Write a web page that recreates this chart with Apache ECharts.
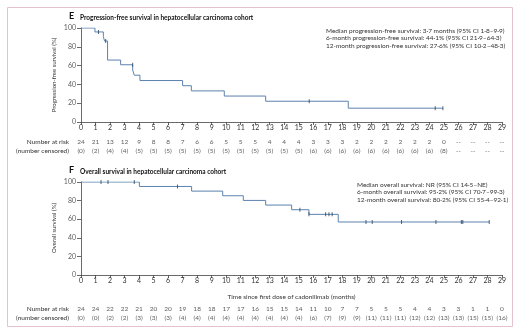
<!DOCTYPE html>
<html><head><meta charset="utf-8">
<script src="https://cdn.jsdelivr.net/npm/echarts@6/dist/echarts.min.js"></script>
<style>html,body{margin:0;padding:0;background:#fff}#c{width:521px;height:332px}</style>
</head><body><div id="c"></div>
<script>
// ---- data ----
const months = Array.from({length: 30}, (_, i) => i);
const yTicks = [0, 20, 40, 60, 80, 100];
const pfsTime = [0, 0.96, 1.54, 1.62, 1.83, 2.73, 3.56, 3.67, 4.06, 7.0, 7.6, 9.87, 12.72, 18.41, 24.93];
const pfsSurv = [100, 95.8, 91.0, 86.2, 65.9, 60.9, 55.4, 49.8, 44.1, 38.6, 33.1, 27.6, 22.1, 14.7, 14.7];
const pfsCensTime = [1.2, 1.7, 3.56, 15.72, 24.4, 24.93];
const pfsCensSurv = [95.8, 86.2, 60.9, 22.1, 14.7, 14.7];
const osTime = [0, 4.02, 7.62, 9.76, 11.18, 12.72, 14.51, 15.7, 17.72, 28.12];
const osSurv = [100, 95.2, 90.2, 85.2, 80.2, 75.2, 70.2, 65.2, 57.0, 57.0];
const osCensTime = [1.38, 1.86, 3.67, 6.65, 15.08, 15.7, 16.85, 17.08, 17.3, 19.63, 20.06, 22.08, 24.45, 26.2, 26.3, 28.12];
const osCensSurv = [100, 100, 100, 95.2, 70.2, 65.2, 65.2, 65.2, 65.2, 57, 57, 57, 57, 57, 57, 57];
const pfsRisk = [24,21,13,12,9,8,8,7,6,6,5,5,5,4,4,4,3,3,3,2,2,2,2,2,2,0,'--','--','--','--'];
const pfsCens = [0,2,4,4,5,5,5,5,5,5,5,5,5,5,5,5,6,6,6,6,6,6,6,6,6,8,'--','--','--','--'];
const osRisk = [24,24,22,22,21,20,20,19,18,18,17,17,16,15,15,14,11,10,7,7,5,5,5,4,4,3,3,1,1,0];
const osCens = [0,0,2,2,3,3,3,4,4,4,4,4,4,4,4,4,6,7,9,9,11,11,11,12,12,13,13,15,15,16];
const riskRows = ['Number at risk', '(number censored)'];
const pfsNotes = ['Median progression-free survival: 3·7 months (95% CI 1·8–9·9)',
  '6-month progression-free survival: 44·1% (95% CI 21·9–64·3)',
  '12-month progression-free survival: 27·6% (95% CI 10·2–48·3)'];
const osNotes = ['Median overall survival: NR (95% CI 14·5–NE)',
  '6-month overall survival: 95·2% (95% CI 70·7–99·3)',
  '12-month overall survival: 80·2% (95% CI 55·4–92·1)'];

// ---- chart ----
const FONT = 'Lato, "Open Sans", sans-serif';
const LINE = '#5b82ad', MARK = '#22405f', TXT = '#333';
const zip = (a, b) => a.map((v, i) => [v, b[i]]);
const riskData = (r, c) => months.flatMap(m => [[m, 0, r[m]], [m, 1, c[m] === '--' ? '--' : '(' + c[m] + ')']]);

function xAx(gi, show, name) {
  return {
    gridIndex: gi, type: 'value', min: 0, max: 29, interval: 1, show: show,
    name: name || '', nameLocation: 'middle', nameGap: 18,
    nameTextStyle: {fontFamily: FONT, fontSize: 6.5, color: TXT},
    axisLine: {lineStyle: {color: '#444', width: 0.8}},
    axisTick: {length: 3, lineStyle: {color: '#444', width: 0.8}},
    axisLabel: {fontFamily: FONT, fontSize: 7, color: TXT, margin: 2},
    splitLine: {show: false}
  };
}
function yAx(gi) {
  return {
    gridIndex: gi, type: 'value', min: 0, max: 100, interval: 20,
    axisLine: {show: true, lineStyle: {color: '#444', width: 0.8}},
    axisTick: {show: true, length: 4, lineStyle: {color: '#444', width: 0.8}},
    axisLabel: {show: false},
    splitLine: {show: false}
  };
}
function riskY(gi) {
  return {
    gridIndex: gi, type: 'category', data: riskRows, inverse: true,
    axisLine: {show: false}, axisTick: {show: false},
    axisLabel: {fontFamily: FONT, fontSize: 6.5, color: TXT, margin: 12, interval: 0}
  };
}
function curve(xi, t, s) {
  return {type: 'line', xAxisIndex: xi, yAxisIndex: xi, data: zip(t, s), step: 'end',
    symbol: 'none', lineStyle: {color: LINE, width: 1}, silent: true};
}
function cens(xi, t, s) {
  return {type: 'scatter', xAxisIndex: xi, yAxisIndex: xi, data: zip(t, s),
    symbol: 'rect', symbolSize: [1, 4], itemStyle: {color: MARK}, silent: true, z: 5};
}
function yTickLabels(xi) {
  return {type: 'scatter', xAxisIndex: xi, yAxisIndex: xi, data: yTicks.map(v => [0, v]),
    symbolSize: 0, silent: true, clip: false,
    label: {show: true, position: 'left', distance: 5, formatter: p => String(p.value[1]),
      fontFamily: FONT, fontSize: 7, color: TXT}};
}
function riskSeries(xi, r, c) {
  return {type: 'scatter', xAxisIndex: xi, yAxisIndex: xi, data: riskData(r, c),
    symbolSize: 0, silent: true,
    label: {show: true, position: 'inside', formatter: p => String(p.value[2]),
      fontFamily: FONT, fontSize: 6.5, color: TXT}};
}
function notes(lines, x, y0) {
  return lines.map((t, i) => ({type: 'text', left: x, top: y0 + i * 7.7,
    style: {text: t, fontFamily: FONT, fontSize: 6.5, fill: TXT}}));
}
function yName(text, cy) {
  return {type: 'text', x: 54, y: cy, rotation: Math.PI / 2,
    style: {text: text, fontFamily: FONT, fontSize: 6, fill: TXT, align: 'center', verticalAlign: 'middle'}};
}

const chart = echarts.init(document.getElementById('c'), null, {renderer: 'canvas'});
chart.setOption({
  animation: false,
  grid: [
    {left: 81, top: 28, width: 421, height: 94},
    {left: 81, top: 182, width: 421, height: 93},
    {left: 81, top: 137, width: 421, height: 18},
    {left: 81, top: 304.5, width: 421, height: 18}
  ],
  xAxis: [xAx(0, true), xAx(1, true, 'Time since first dose of cadonilimab (months)'), xAx(2, false), xAx(3, false)],
  yAxis: [yAx(0), yAx(1), riskY(2), riskY(3)],
  series: [
    curve(0, pfsTime, pfsSurv), cens(0, pfsCensTime, pfsCensSurv), yTickLabels(0),
    curve(1, osTime, osSurv), cens(1, osCensTime, osCensSurv), yTickLabels(1),
    riskSeries(2, pfsRisk, pfsCens), riskSeries(3, osRisk, osCens)
  ],
  graphic: [
    {type: 'rect', shape: {x: 7.5, y: 7.5, width: 505, height: 319},
      style: {fill: 'none', stroke: '#e6c3cc', lineWidth: 1}, silent: true},
    {type: 'text', left: 69, top: 12, style: {text: 'E', fontFamily: FONT, fontSize: 9, fontWeight: 'bold', fill: '#111'}},
    {type: 'text', left: 80, top: 14, style: {text: 'Progression-free survival in hepatocellular carcinoma cohort', fontFamily: FONT, fontSize: 6.5, fontWeight: 'bold', fill: '#111'}},
    {type: 'text', left: 69, top: 166, style: {text: 'F', fontFamily: FONT, fontSize: 9, fontWeight: 'bold', fill: '#111'}},
    {type: 'text', left: 80, top: 168, style: {text: 'Overall survival in hepatocellular carcinoma cohort', fontFamily: FONT, fontSize: 6.5, fontWeight: 'bold', fill: '#111'}},
    yName('Progression-free survival (%)', 75),
    yName('Overall survival (%)', 228),
    ...notes(pfsNotes, 326, 27),
    ...notes(osNotes, 357, 181)
  ]
});
</script></body></html>
